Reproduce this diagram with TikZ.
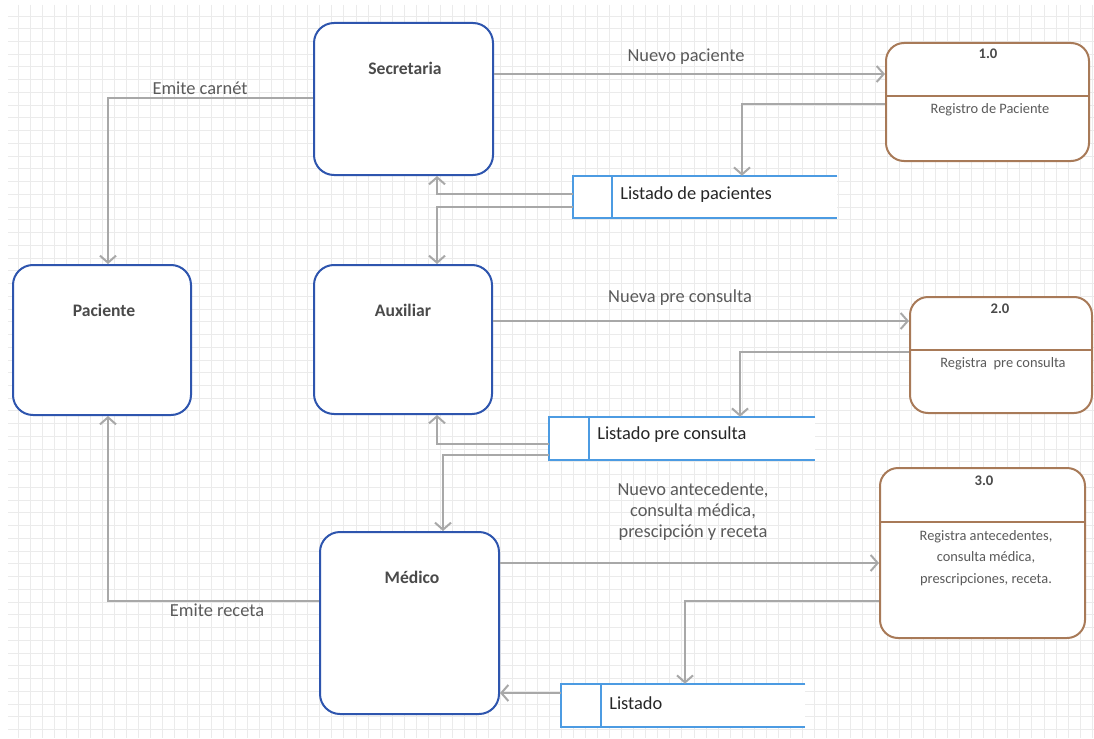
\documentclass[tikz,border=0pt]{standalone}
\usepackage{fontspec}
\setmainfont{Carlito}
\usetikzlibrary{arrows.meta,calc}
\definecolor{entblue}{HTML}{2E55AE}
\definecolor{procbrown}{HTML}{A87A58}
\definecolor{storeblue}{HTML}{4C9BE2}
\definecolor{flowgray}{HTML}{A8A8A8}
\definecolor{gridgray}{HTML}{EBEBEB}
\definecolor{labelgray}{HTML}{5A5A5A}
\definecolor{titlegray}{HTML}{4A4A4A}
\def\u{0.75pt}
\tikzset{
  entity/.style={draw=entblue, line width=2*\u, rounded corners=20*\u, fill=white, inner sep=0pt},
  process/.style={draw=procbrown, line width=2*\u, rounded corners=18*\u, fill=white, inner sep=0pt},
  divider/.style={draw=procbrown, line width=2*\u},
  storebox/.style={draw=none, fill=white, inner sep=0pt},
  storeline/.style={draw=storeblue, line width=2*\u},
  flow/.style={draw=flowgray, line width=2*\u, -{Straight Barb[length=7*\u, width=16*\u]}},
  title/.style={font=\bfseries\fontsize{13.2}{15}\selectfont, text=titlegray, inner sep=0pt},
  flowlabel/.style={font=\fontsize{13.8}{15.8}\selectfont, text=labelgray, inner sep=0pt, align=center},
  proclabel/.style={font=\fontsize{10.8}{16}\selectfont, text=labelgray, inner sep=0pt, align=center},
  procnum/.style={font=\bfseries\fontsize{11}{13}\selectfont, text=titlegray, inner sep=0pt},
  storelabel/.style={font=\fontsize{13.8}{16}\selectfont, text=black!85, inner sep=0pt, anchor=west},
}
\begin{document}
\begin{tikzpicture}[x=0.75pt, y=-0.75pt]
\useasboundingbox (0,0) rectangle (1094,738);
\fill[white] (0,0) rectangle (1094,738);

% background grid
\begin{scope}
  \clip (8,5) rectangle (1094,738);
  \foreach \i in {0,...,90} {
    \draw[gridgray, line width=1*\u] ({6+12.07*\i},5) -- ({6+12.07*\i},738);
  }
  \foreach \j in {0,...,57} {
    \draw[gridgray, line width=1*\u] (8,{3.3+12.74*\j}) -- (1094,{3.3+12.74*\j});
  }
\end{scope}

% external entities
\node[entity, minimum width=179*\u, minimum height=152*\u] (sec) at (403.5,99) {};
\node[title] (secT) at (405,68) {Secretaria};
\node[entity, minimum width=178*\u, minimum height=150*\u] (pac) at (102,340) {};
\node[title] (pacT) at (104,310) {Paciente};
\node[entity, minimum width=178*\u, minimum height=149*\u] (aux) at (403,339.5) {};
\node[title] (auxT) at (403,310) {Auxiliar};
\node[entity, minimum width=179*\u, minimum height=182*\u] (med) at (409.5,623) {};
\node[title] (medT) at (412,577) {Médico};

% processes
\node[process, minimum width=203*\u, minimum height=118*\u] (p1) at (987.5,102) {};
\draw[divider] (p1.west |- 0,96) -- (p1.east |- 0,96);
\node[procnum] (p1n) at (988,54) {1.0};
\node[proclabel] (p1l) at (990,110) {Registro de Paciente};

\node[process, minimum width=182*\u, minimum height=116*\u] (p2) at (1001,355) {};
\draw[divider] (p2.west |- 0,350) -- (p2.east |- 0,350);
\node[procnum] (p2n) at (1000,309) {2.0};
\node[proclabel] (p2l) at (1003,364) {Registra\ \ pre consulta};

\node[process, minimum width=205*\u, minimum height=170*\u] (p3) at (982.5,553) {};
\draw[divider] (p3.west |- 0,522) -- (p3.east |- 0,522);
\node[procnum] (p3n) at (984,481) {3.0};
\node[proclabel] (p3l) at (986,558) {Registra antecedentes,\\consulta médica,\\prescripciones, receta.};

% data stores (open on the right)
\node[storebox, minimum width=264*\u, minimum height=42*\u] (ds1) at (705,197) {};
\draw[storeline] (ds1.north east) -- (ds1.north west) -- (ds1.south west) -- (ds1.south east);
\draw[storeline] ([xshift=39*\u]ds1.north west) -- ([xshift=39*\u]ds1.south west);
\node[storelabel] (ds1T) at (620,195) {Listado de pacientes};

\node[storebox, minimum width=266*\u, minimum height=43*\u] (ds2) at (682,438.5) {};
\draw[storeline] (ds2.north east) -- (ds2.north west) -- (ds2.south west) -- (ds2.south east);
\draw[storeline] ([xshift=40*\u]ds2.north west) -- ([xshift=40*\u]ds2.south west);
\node[storelabel] (ds2T) at (597,435) {Listado pre consulta};

\node[storebox, minimum width=244*\u, minimum height=43*\u] (ds3) at (683,705.5) {};
\draw[storeline] (ds3.north east) -- (ds3.north west) -- (ds3.south west) -- (ds3.south east);
\draw[storeline] ([xshift=40*\u]ds3.north west) -- ([xshift=40*\u]ds3.south west);
\node[storelabel] (ds3T) at (609,703) {Listado};

% data flows
\draw[flow] (sec.west |- 0,98) -| (pac.north -| 108,0);
\node[flowlabel] (l1) at (200,88) {Emite carnét};

\draw[flow] (sec.east |- 0,74) -- (p1.west |- 0,74);
\node[flowlabel] (l2) at (686,57) {Nuevo paciente};

\draw[flow] (p1.west |- 0,104) -| (ds1.north -| 742,0);
\draw[flow] (ds1.west |- 0,194) -| (sec.south -| 437,0);
\draw[flow] (ds1.west |- 0,207) -| (aux.north -| 437,0);

\draw[flow] (aux.east |- 0,321) -- (p2.west |- 0,321);
\node[flowlabel] (l3) at (680,298) {Nueva pre consulta};

\draw[flow] (p2.west |- 0,352) -| (ds2.north -| 740,0);
\draw[flow] (ds2.west |- 0,444) -| (aux.south -| 437,0);
\draw[flow] (ds2.west |- 0,455) -| (med.north -| 443,0);

\draw[flow] (med.east |- 0,563) -- (p3.west |- 0,563);
\node[flowlabel] (l4) at (693,512) {Nuevo antecedente,\\consulta médica,\\prescipción y receta};

\draw[flow] (p3.west |- 0,601) -| (ds3.north -| 685,0);
\draw[flow] (ds3.west |- 0,693) -- (med.east |- 0,693);

\draw[flow] (med.west |- 0,601) -| (pac.south -| 108,0);
\node[flowlabel] (l5) at (217,610) {Emite receta};
\end{tikzpicture}
\end{document}
